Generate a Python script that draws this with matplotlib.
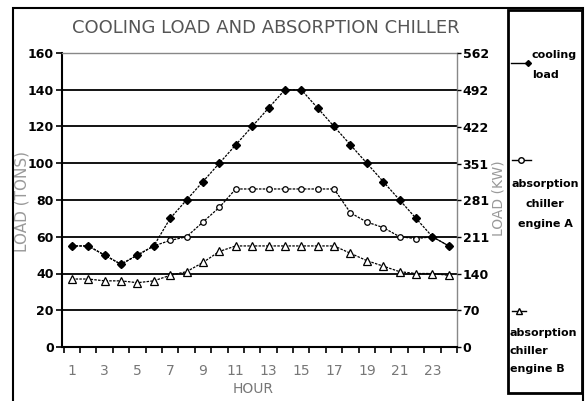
import matplotlib.pyplot as plt
from matplotlib.patches import Rectangle

# Data
hours = list(range(1, 25))
cooling_load = [55, 55, 50, 45, 50, 55, 70, 80, 90, 100, 110, 120,
                130, 140, 140, 130, 120, 110, 100, 90, 80, 70, 60, 55]
engine_a = [55, 55, 50, 45, 50, 55, 58, 60, 68, 76, 86, 86,
            86, 86, 86, 86, 86, 73, 68, 65, 60, 59, 60, 55]
engine_b = [37, 37, 36, 36, 35, 36, 39, 41, 46, 52, 55, 55,
            55, 55, 55, 55, 55, 51, 47, 44, 41, 40, 40, 39]

tons_ticks = [0, 20, 40, 60, 80, 100, 120, 140, 160]
kw_ticks = [0, 70, 140, 211, 281, 351, 422, 492, 562]
hour_labels = list(range(1, 24, 2))
tons_to_kw = 3.517

fig = plt.figure(figsize=(5.85, 4.01), dpi=100)
fig.patch.set_facecolor("white")

# outer frame and legend box
fig.add_artist(Rectangle((13/585, -0.05), (583 - 13)/585, 1.05 - 8/401,
                         transform=fig.transFigure, fill=False,
                         edgecolor="black", linewidth=1.5))
fig.add_artist(Rectangle((508/585, 1 - 393/401), (582 - 508)/585, (393 - 10)/401,
                         transform=fig.transFigure, fill=False,
                         edgecolor="black", linewidth=2))

ax = fig.add_axes([62/585, 1 - 347/401, (457 - 62)/585, (347 - 53)/401])

line_kw = dict(color="black", linewidth=0.9, linestyle=(0, (2, 1)))
ax.plot(hours, engine_b, marker="^", markersize=6, markerfacecolor="white",
        markeredgecolor="black", markeredgewidth=0.9, **line_kw)
ax.plot(hours, engine_a, marker="o", markersize=4, markerfacecolor="white",
        markeredgecolor="black", markeredgewidth=0.9, **line_kw)
ax.plot(hours, cooling_load, marker="D", markersize=4, markerfacecolor="black",
        markeredgecolor="black", **line_kw)

ax.set_xlim(0.4, 24.5)
ax.set_ylim(0, 160)
ax.set_yticks(tons_ticks)
ax.set_yticklabels([str(t) for t in tons_ticks], fontsize=9, fontweight="bold")
ax.yaxis.grid(True, color="black", linewidth=1.3)
ax.set_axisbelow(True)

ax.set_xticks([h + 0.5 for h in range(0, 25)])
ax.set_xticklabels([])
ax.set_xticks(hour_labels, minor=True)
ax.set_xticklabels([str(h) for h in hour_labels], minor=True,
                   fontsize=10, color="#777777")
ax.tick_params(axis="x", which="major", direction="out", length=4, width=1.2)
ax.tick_params(axis="x", which="minor", length=0, pad=12)
ax.tick_params(axis="y", direction="out", length=4, width=1.2, pad=2)

for side in ["left", "bottom"]:
    ax.spines[side].set_linewidth(1.5)
for side in ["top", "right"]:
    ax.spines[side].set_color("#888888")
    ax.spines[side].set_linewidth(1)

ax2 = ax.twinx()
ax2.set_ylim(0, 160 * tons_to_kw)
ax2.set_yticks(kw_ticks)
ax2.set_yticklabels([str(t) for t in kw_ticks], fontsize=9, fontweight="bold")
ax2.tick_params(axis="y", direction="out", length=3, width=1, pad=1)
for side in ["left", "bottom", "top", "right"]:
    ax2.spines[side].set_visible(False)

fig.text(266/585, 1 - 28/401, "COOLING LOAD AND ABSORPTION CHILLER",
         ha="center", va="center", fontsize=13, color="#555555")
fig.text(22/585, 1 - 201/401, "LOAD (TONS)", rotation=90,
         ha="center", va="center", fontsize=11, color="#999999")
fig.text(498/585, 1 - 198/401, "LOAD (KW)", rotation=90,
         ha="center", va="center", fontsize=10, color="#999999")
fig.text(253/585, 1 - 389/401, "HOUR",
         ha="center", va="center", fontsize=10, color="#777777")

# legend drawn by hand in the right box
lax = fig.add_axes([508/585, 1 - 393/401, (582 - 508)/585, (393 - 10)/401])
lax.set_xlim(508, 582)
lax.set_ylim(393, 10)
lax.axis("off")
lax.plot([511, 520, 528], [63, 63, 63], color="black", linewidth=1,
         marker="D", markersize=3, markevery=[2])
lax.text(532, 65, "cooling\nload", fontsize=8, fontweight="bold",
         va="center", ha="left", linespacing=2.2)
lax.plot([512, 521, 531], [160, 160, 160], color="black", linewidth=1,
         marker="o", markersize=4, markerfacecolor="white", markevery=[1])
lax.text(545, 204, "absorption\nchiller\nengine A", fontsize=8,
         fontweight="bold", va="center", ha="center", linespacing=2.2)
lax.plot([512, 519, 526], [311, 311, 311], color="black", linewidth=1,
         marker="^", markersize=5, markerfacecolor="white", markevery=[1])
lax.text(510, 351, "absorption\nchiller\nengine B", fontsize=8,
         fontweight="bold", va="center", ha="left", linespacing=2.0)

fig.savefig("out.png", dpi=100)
